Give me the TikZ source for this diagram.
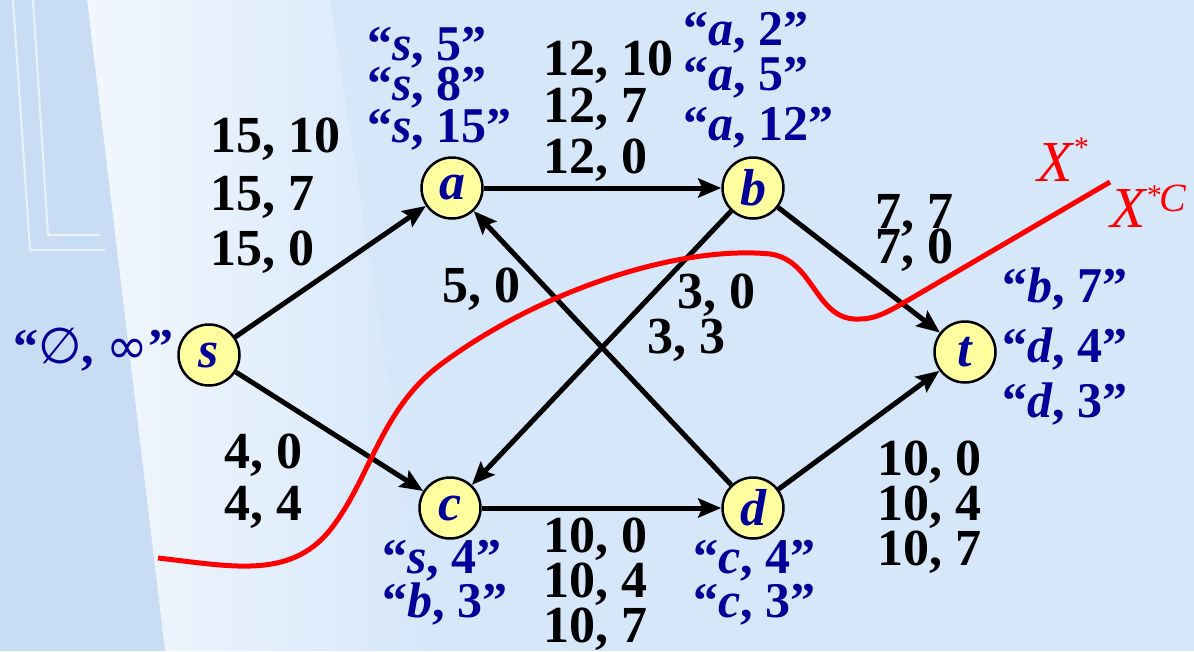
\documentclass[tikz,border=0pt]{standalone}
\usepackage{fontspec}
\setmainfont{Liberation Serif}
\newfontfamily\symfont{DejaVu Sans}
\usetikzlibrary{arrows.meta}
\definecolor{bg}{RGB}{214,231,250}
\definecolor{colm}{RGB}{200,221,243}
\definecolor{pale}{RGB}{242,247,253}
\definecolor{navy}{RGB}{0,0,153}
\definecolor{nodey}{RGB}{255,255,160}
\begin{document}
\begin{tikzpicture}[x=1pt,y=-1pt,
  vert/.style={circle,draw=black,line width=2.5pt,fill=nodey,minimum size=61pt,inner sep=0pt,
    font=\fontsize{52}{52}\selectfont\bfseries\itshape,text=navy},
  edge/.style={line width=5pt,-{Stealth[length=23pt,width=19pt,inset=4pt]}},
  num/.style={anchor=base west,inner sep=0pt,font=\fontsize{52}{52}\selectfont\bfseries},
  lbl/.style={anchor=base west,inner sep=0pt,font=\fontsize{50}{50}\selectfont\bfseries,text=navy},
  cutlbl/.style={anchor=base west,inner sep=0pt,text=red,font=\fontsize{58}{58}\selectfont\itshape},
  cut/.style={red,line width=5pt}
]
\useasboundingbox (0,0) rectangle (1194,651);
% background
\fill[bg] (0,0) rectangle (1194,651);
\shade[left color=pale,right color=bg] (87,0) -- (330,0) -- (430,651) -- (165,651) -- cycle;
\fill[colm] (0,0) -- (87,0) -- (165,651) -- (0,651) -- cycle;
\draw[white!60!colm,line width=2pt] (13,0) -- (30,250) -- (105,250);
\draw[white!60!colm,line width=2pt] (33,0) -- (48,235) -- (100,235);

% vertices
\node[vert] (s) at (209,355) {s};
\node[vert] (a) at (452,188) {a};
\node[vert] (b) at (753,188) {b};
\node[vert] (c) at (450,508) {c};
\node[vert] (d) at (753,508) {d};
\node[vert] (t) at (965,352) {t};

% edges
\draw[edge] (s) -- (a);
\draw[edge] (s) -- (c);
\draw[edge] (a) -- (b);
\draw[edge] (b) -- (t);
\draw[edge] (c) -- (d);
\draw[edge] (d) -- (t);
\draw[edge] (d) -- (a);
\draw[edge] (b) -- (c);

% cut
\coordinate (cs) at (158,558);
\coordinate (ce) at (1110,182);
\draw[cut] (cs) .. controls (230,566) and (290,580) .. (330,530)
  .. controls (370,480) and (380,410) .. (440,365)
  .. controls (540,290) and (680,245) .. (770,254)
  .. controls (815,260) and (815,322) .. (860,319)
  .. controls (875,319) and (888,312) .. (905,302) -- (ce);
\node[cutlbl] (xs) at (1037,181) {X\raisebox{24pt}{\fontsize{30}{30}\selectfont *}};
\node[cutlbl] (xc) at (1110,227) {X\raisebox{22pt}{\fontsize{30}{30}\selectfont *}\kern-1pt\raisebox{16pt}{\fontsize{40}{40}\selectfont C}};

% edge labels
\node[num] (e1a) at (210,152) {15, 10};
\node[num] (e1b) at (210,210) {15, 7};
\node[num] (e1c) at (210,265) {15, 0};
\node[num] (e2a) at (543,75) {12, 10};
\node[num] (e2b) at (543,122) {12, 7};
\node[num] (e2c) at (543,173) {12, 0};
\node[num] (e3a) at (875,228) {7, 7};
\node[num] (e3b) at (875,263) {7, 0};
\node[num] (e4) at (442,302) {5, 0};
\node[num] (e5a) at (677,308) {3, 0};
\node[num] (e5b) at (647,353) {3, 3};
\node[num] (e6a) at (224,468) {4, 0};
\node[num] (e6b) at (224,520) {4, 4};
\node[num] (e7a) at (543,552) {10, 0};
\node[num] (e7b) at (543,597) {10, 4};
\node[num] (e7c) at (543,642) {10, 7};
\node[num] (e8a) at (877,475) {10, 0};
\node[num] (e8b) at (877,520) {10, 4};
\node[num] (e8c) at (877,565) {10, 7};

% vertex labels
\node[lbl] (ls) at (13,363) {“{\symfont\mdseries ∅}, {\symfont\mdseries ∞}”};
\node[lbl] (la1) at (367,60) {“\textit{s}, 5”};
\node[lbl] (la2) at (367,100) {“\textit{s}, 8”};
\node[lbl] (la3) at (367,142) {“\textit{s}, 15”};
\node[lbl] (lb1) at (683,45) {“\textit{a}, 2”};
\node[lbl] (lb2) at (683,90) {“\textit{a}, 5”};
\node[lbl] (lb3) at (683,140) {“\textit{a}, 12”};
\node[lbl] (lt1) at (1002,302) {“\textit{b}, 7”};
\node[lbl] (lt2) at (1002,362) {“\textit{d}, 4”};
\node[lbl] (lt3) at (1002,417) {“\textit{d}, 3”};
\node[lbl] (lc1) at (382,573) {“\textit{s}, 4”};
\node[lbl] (lc2) at (382,617) {“\textit{b}, 3”};
\node[lbl] (ld1) at (693,573) {“\textit{c}, 4”};
\node[lbl] (ld2) at (693,617) {“\textit{c}, 3”};
\end{tikzpicture}
\end{document}
